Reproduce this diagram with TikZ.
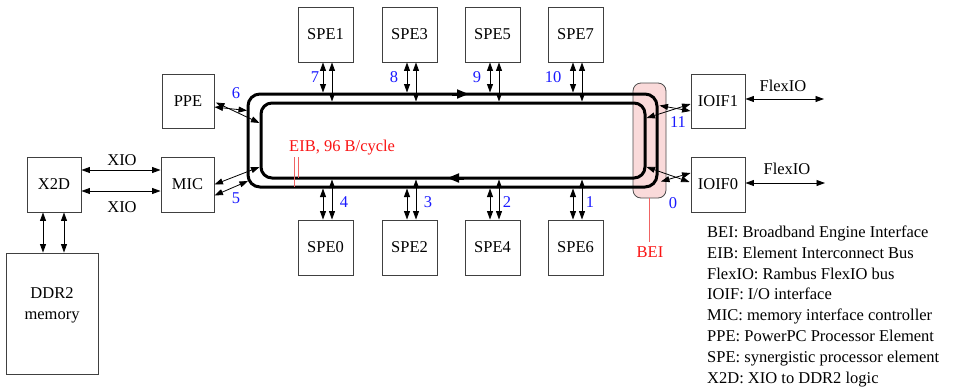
\documentclass[tikz,border=0pt]{standalone}
\usepackage{fontspec}
\setmainfont{Liberation Serif}
\usetikzlibrary{arrows.meta}
\definecolor{bluenum}{RGB}{25,25,255}
\definecolor{pinkfill}{RGB}{250,218,218}
\definecolor{beiline}{RGB}{240,100,100}
\definecolor{redtxt}{RGB}{250,20,20}
\begin{document}
\begin{tikzpicture}[x=1pt,y=-1pt,
  font=\fontsize{16.5}{20.8}\selectfont,
  box/.style={draw=black!75, line width=0.9pt, minimum width=55pt, minimum height=55pt, inner sep=0pt},
  bi/.style={line width=0.8pt, {Triangle[length=8.5pt,width=6pt]}-{Triangle[length=8.5pt,width=6pt]}},
  ring/.style={line width=3pt},
  ringtip/.style={line width=3pt, -{Triangle[length=12pt,width=8.5pt]}},
  num/.style={text=bluenum, inner sep=0pt},
  redl/.style={draw=beiline, line width=1pt},
]
\useasboundingbox (0,0) rectangle (958,389);

% BEI box
\node[draw=black!70, fill=pinkfill, rounded corners=8pt, line width=0.8pt,
      minimum width=33pt, minimum height=115pt, inner sep=0pt] (bei) at (649.5,140.5) {};

% ring
\draw[ring, rounded corners=12pt] (248,94) rectangle (657,187);
\draw[ring, rounded corners=11pt] (261,103) rectangle (645,178);
\draw[ringtip] (452,94) -- (469,94);
\draw[ringtip] (464,178) -- (447,178);

\coordinate (otop) at (0,92.5);
\coordinate (itop) at (0,101.5);
\coordinate (obot) at (0,188.5);
\coordinate (ibot) at (0,179.5);

% SPEs
\foreach \n/\cx in {1/325.5,3/409.5,5/492.5,7/575.5}{
  \node[box] (spe\n) at (\cx,34.5) {SPE\n};
  \draw[bi] ([xshift=-2.5pt]spe\n.south) -- ([xshift=-2.5pt]spe\n.south |- otop);
  \draw[bi] ([xshift=6.5pt]spe\n.south) -- ([xshift=6.5pt]spe\n.south |- itop);
}
\foreach \n/\cx in {0/325.5,2/409.5,4/492.5,6/575.5}{
  \node[box] (spe\n) at (\cx,247.5) {SPE\n};
  \draw[bi] ([xshift=-2.5pt]spe\n.north) -- ([xshift=-2.5pt]spe\n.north |- obot);
  \draw[bi] ([xshift=6.5pt]spe\n.north) -- ([xshift=6.5pt]spe\n.north |- ibot);
}

% port numbers
\node[num] (n7) at (315,77) {7};
\node[num] (n8) at (394,77) {8};
\node[num] (n9) at (477,77) {9};
\node[num] (n10) at (553,77) {10};
\node[num] (n4) at (344,202) {4};
\node[num] (n3) at (428,202) {3};
\node[num] (n2) at (507,202) {2};
\node[num] (n1) at (590,202) {1};
\node[num] (n6) at (236,93) {6};
\node[num] (n5) at (236,198) {5};
\node[num] (n11) at (678,122) {11};
\node[num] (n0) at (673,203) {0};

% PPE, MIC, X2D, DDR2
\node[box, minimum width=52pt, minimum height=54pt] (ppe) at (188,101) {PPE};
\node[box, minimum width=53pt] (mic) at (187.5,184.5) {MIC};
\node[box, minimum width=54pt] (x2d) at (54,184.5) {X2D};
\node[box, minimum width=92pt, minimum height=121pt] (ddr) at (52,313.5) {};
\node[align=center, inner sep=0pt] (ddrt) at (52,305) {DDR2\\memory};

\coordinate (ppeA) at (247,110.5);
\coordinate (ppeB) at (259.5,123);
\draw[bi] ([yshift=-6pt]ppe.east) -- (ppeA);
\draw[bi] ([xshift=1.5pt,yshift=-1.5pt]ppe.east) -- (ppeB);

\coordinate (micA) at (259.5,167);
\coordinate (micB) at (248,181);
\draw[bi] (mic.east) -- (micA);
\draw[bi] ([yshift=-11pt]mic.east) -- (micB);

\draw[bi] (x2d.east |- 0,170) -- (mic.west |- 0,170);
\draw[bi] (x2d.east |- 0,191) -- (mic.west |- 0,191);
\node (xio1) at (122,160) {XIO};
\node (xio2) at (122,207) {XIO};

\draw[bi] (x2d.south -| 43,0) -- (ddr.north -| 43,0);
\draw[bi] (x2d.south -| 64,0) -- (ddr.north -| 64,0);

% IOIFs
\node[box, minimum width=54pt, minimum height=54pt] (ioif1) at (718,101) {IOIF1};
\node[box, minimum width=54pt] (ioif0) at (718,184.5) {IOIF0};

\coordinate (io1A) at (659.5,105.5);
\coordinate (io1B) at (646.5,118);
\draw[bi] ([yshift=-10pt]ioif1.west) -- (io1A);
\draw[bi] ([yshift=-3pt]ioif1.west) -- (io1B);

\coordinate (io0A) at (646.5,167);
\coordinate (io0B) at (661,181.5);
\draw[bi] (io0A) -- ([xshift=-1pt,yshift=2.5pt]ioif0.west);
\draw[bi] (io0B) -- ([yshift=11.5pt]ioif0.west);

\coordinate (fx1) at (824,99);
\coordinate (fx0) at (825,183);
\draw[bi] (ioif1.east |- fx1) -- (fx1);
\draw[bi] (ioif0.east |- fx0) -- (fx0);
\node (flex1) at (783,86) {FlexIO};
\node (flex0) at (787,169) {FlexIO};

% BEI label
\node[text=redtxt, inner sep=0pt] (beil) at (650,252) {BEI};
\draw[redl] (bei.south) -- ([yshift=-44pt]bei.south);

% EIB label
\node[text=redtxt, anchor=west, inner sep=0pt] (eib) at (289,148) {EIB, 96 B/cycle};
\draw[redl] (294,157) -- (294,187);
\draw[redl] (298.5,157) -- (298.5,178);

% legend
\foreach \t [count=\i from 0] in {
  BEI: Broadband Engine Interface,
  EIB: Element Interconnect Bus,
  FlexIO: Rambus FlexIO bus,
  IOIF: I/O interface,
  MIC: memory interface controller,
  PPE: PowerPC Processor Element,
  SPE: synergistic processor element,
  X2D: XIO to DDR2 logic}{
  \node[anchor=base west, inner sep=0pt] (leg\i) at (707,{237.5+20.8*\i}) {\t};
}
\end{tikzpicture}
\end{document}
